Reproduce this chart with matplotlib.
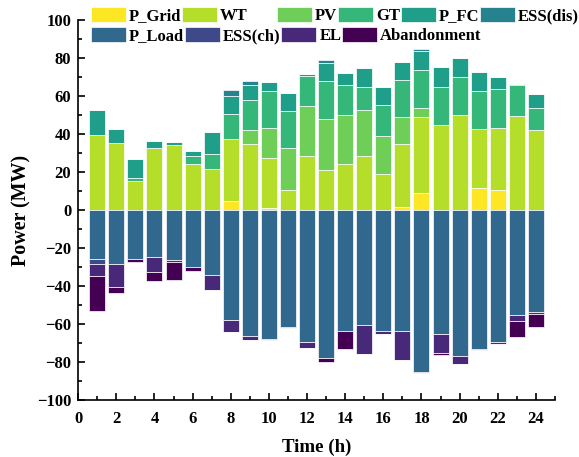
import numpy as np
import matplotlib
matplotlib.use('Agg')
import matplotlib.pyplot as plt
from matplotlib.ticker import MultipleLocator

plt.rcParams['font.family'] = ['Liberation Serif', 'DejaVu Serif']
plt.rcParams['font.weight'] = 'bold'

hours = np.arange(1, 25)

# supply side (stacked upward)
p_grid = [0, 0, 0, 0, 0, 0, 0, 4.6, 0, 0.9, 0, 0, 0, 0, 0, 0, 1.8, 8.8, 0, 0, 11.4, 10.5, 0, 0]
wt = [39.5, 35.4, 15.1, 32.6, 34.4, 24.2, 21.8, 32.8, 34.9, 26.5, 10.5, 28.6, 21.2, 24.2, 28.6, 19.1,
      33.1, 40.0, 44.6, 50.0, 31.2, 32.8, 49.5, 41.9]
pv = [0, 0, 0, 0, 0, 0, 0, 0, 7.2, 15.8, 22.1, 26.1, 26.7, 26.0, 24.0, 20.0, 14.0, 5.1, 0, 0, 0, 0, 0, 0]
gt = [0, 0, 1.7, 0, 0, 4.4, 7.8, 13.1, 16.1, 19.6, 19.7, 16.0, 20.0, 15.9, 12.0, 16.0, 19.7, 20.0,
      20.3, 20.2, 19.9, 20.2, 16.6, 12.0]
p_fc = [13.1, 7.1, 10.2, 3.9, 1.2, 2.3, 11.6, 9.5, 7.6, 4.7, 9.1, 0.9, 9.3, 6.2, 10.1, 9.5, 9.6, 9.8,
        10.2, 9.8, 10.3, 6.3, 0.4, 7.2]
ess_dis = [0, 0, 0, 0, 0, 0, 0, 3.2, 2.1, 0, 0, 0, 1.7, 0, 0, 0, 0, 1.0, 0, 0, 0, 0, 0, 0]

# demand side (stacked downward)
p_load = [25.8, 28.4, 25.8, 24.7, 26.3, 29.8, 34.2, 58.1, 66.5, 67.9, 61.4, 69.6, 78.1, 63.9, 60.7,
          63.7, 63.7, 85.1, 65.1, 76.7, 73.2, 69.5, 55.3, 53.7]
ess_ch = [2.6, 0, 0, 0, 0, 0, 0, 0, 0, 0, 0, 0, 0, 0, 0, 0, 0, 0, 0, 0, 0, 0, 0, 0]
el = [6.3, 12.0, 0, 8.1, 1.1, 0, 8.1, 6.1, 2.1, 0.5, 0.5, 2.9, 0, 0, 15.1, 1.7, 15.4, 0.9, 10.3, 4.2,
      0.5, 1.2, 3.3, 1.2]
abandon = [18.6, 3.3, 1.7, 4.7, 9.4, 2.3, 0, 0, 0, 0, 0, 0, 1.7, 9.3, 0, 0, 0, 0, 0.7, 0, 0, 0, 8.4, 6.9]

labels_pos = ['P_Grid', 'WT', 'PV', 'GT', 'P_FC', 'ESS(dis)']
labels_neg = ['P_Load', 'ESS(ch)', 'EL', 'Abandonment']

cols = plt.cm.viridis(np.linspace(1, 0, 10))

fig = plt.figure(figsize=(5.79, 4.57), dpi=100)
ax = fig.add_axes([0.135, 0.1247, 0.8235, 0.8313])

w = 0.84
bottom = np.zeros(24)
handles = {}
for vals, lab, c in zip([p_grid, wt, pv, gt, p_fc, ess_dis], labels_pos, cols[:6]):
    vals = np.array(vals)
    b = ax.bar(hours, vals, w, bottom=bottom, color=c, edgecolor='white', linewidth=0.5, label=lab)
    handles[lab] = b
    bottom = bottom + vals

bottom = np.zeros(24)
for vals, lab, c in zip([p_load, ess_ch, el, abandon], labels_neg, cols[6:]):
    vals = -np.array(vals)
    b = ax.bar(hours, vals, w, bottom=bottom, color=c, edgecolor='white', linewidth=0.5, label=lab)
    handles[lab] = b
    bottom = bottom + vals

ax.set_xlim(0, 25)
ax.set_ylim(-100, 100)
ax.xaxis.set_major_locator(MultipleLocator(2))
ax.xaxis.set_minor_locator(MultipleLocator(1))
ax.yaxis.set_major_locator(MultipleLocator(20))
ax.yaxis.set_minor_locator(MultipleLocator(10))
ax.tick_params(which='both', direction='in', labelsize=12, width=1.2)
ax.tick_params(which='major', length=5)
ax.tick_params(which='minor', length=3)
ax.tick_params(axis='x', pad=8)
ax.tick_params(axis='y', pad=5)
for s in ['top', 'right']:
    ax.spines[s].set_visible(False)
for s in ['left', 'bottom']:
    ax.spines[s].set_linewidth(1.2)
for t in ax.get_xticklabels() + ax.get_yticklabels():
    t.set_fontweight('bold')

ax.set_xlabel('Time (h)', fontsize=13.6, fontweight='bold', labelpad=8)
ax.set_ylabel('Power (MW)', fontsize=14.4, fontweight='bold')

leg_kw = dict(frameon=False, handlelength=2.1, handleheight=1.02,
              handletextpad=0.18, columnspacing=0.05, borderpad=0, borderaxespad=0,
              prop={'weight': 'bold', 'size': 12})
W, H = 579.0, 457.0
l1 = fig.legend([handles[k] for k in ['P_Grid', 'WT']], ['P_Grid', 'WT'], ncol=2,
                loc='upper left', bbox_to_anchor=(91 / W, 1 - 7 / H), **leg_kw)
l2 = fig.legend([handles[k] for k in ['PV', 'GT', 'P_FC', 'ESS(dis)']], ['PV', 'GT', 'P_FC', 'ESS(dis)'],
                ncol=4, loc='upper left', bbox_to_anchor=(277 / W, 1 - 7 / H), **leg_kw)
l3 = fig.legend([handles[k] for k in labels_neg], labels_neg, ncol=4,
                loc='upper left', bbox_to_anchor=(91 / W, 1 - 27 / H), **leg_kw)

fig.savefig('out.png', dpi=100)
